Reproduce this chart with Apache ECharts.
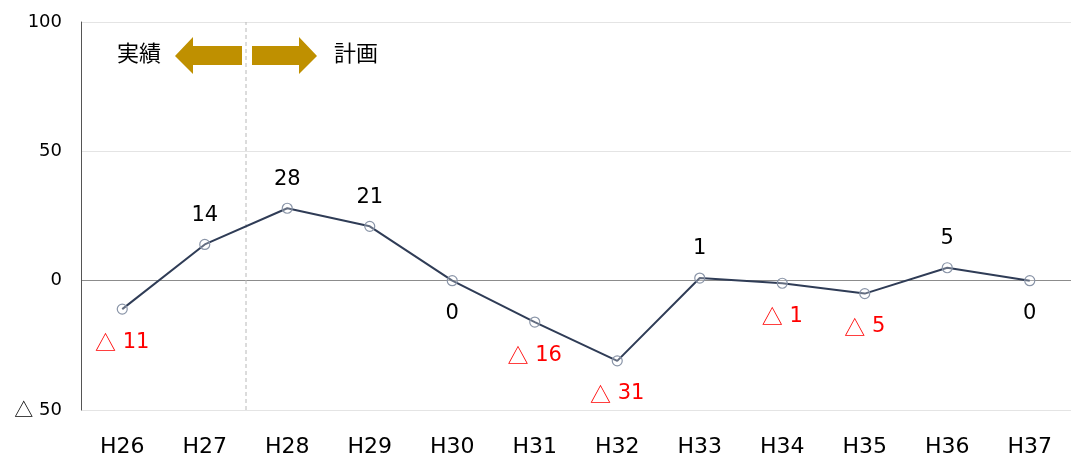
<!DOCTYPE html>
<html>
<head>
<meta charset="utf-8">
<script src="https://cdn.jsdelivr.net/npm/echarts@6/dist/echarts.min.js"></script>
<style>
  html, body { margin: 0; padding: 0; background: #fff; }
  #chart { width: 1071px; height: 458px; }
</style>
</head>
<body>
<div id="chart"></div>
<script>
// Fiscal years (Heisei) and yearly change values
const years = ['H26', 'H27', 'H28', 'H29', 'H30', 'H31', 'H32', 'H33', 'H34', 'H35', 'H36', 'H37'];
const changes = [-11, 14, 28, 21, 0, -16, -31, 1, -1, -5, 5, 0];
const yTicks = [-50, 0, 50, 100];
const lastActualYear = 'H27';   // results up to here, plan afterwards

const FONT = '"DejaVu Sans", "Noto Sans CJK JP", sans-serif';
const JP_FONT = '"Noto Sans CJK JP", sans-serif';
const GOLD = '#BF9000';

// Negative values are written with a leading triangle
const fmt = v => (v < 0 ? '{t|△} ' + (-v) : String(v));

const seriesData = changes.map(v => ({
  value: v,
  label: {
    position: v > 0 ? 'top' : 'bottom',
    distance: v > 0 ? 13 : 17,
    color: v < 0 ? '#ff0000' : '#000000'
  }
}));

// divider sits on the boundary between the last actual year and the first plan year
const dividerX = years.indexOf(lastActualYear) + 0.5;
const dividerData = [[dividerX, yTicks[0]], [dividerX, yTicks[yTicks.length - 1]]];

const chart = echarts.init(document.getElementById('chart'), null, { renderer: 'canvas' });

chart.setOption({
  animation: false,
  backgroundColor: '#ffffff',
  grid: { left: 81, width: 995, top: 22, bottom: 48, containLabel: false },
  xAxis: [
    {
      type: 'category',
      data: years,
      boundaryGap: true,
      axisLine: { show: false },
      axisTick: { show: false },
      splitLine: { show: false },
      axisLabel: { color: '#000', fontSize: 22, fontFamily: FONT, margin: 26 }
    },
    {
      // continuous companion axis used to place the divider between categories
      type: 'value',
      show: false,
      min: -0.5,
      max: years.length - 0.5
    }
  ],
  yAxis: {
    type: 'value',
    min: yTicks[0],
    max: yTicks[yTicks.length - 1],
    interval: 50,
    axisLine: { show: true, onZero: false, lineStyle: { color: '#555', width: 1 } },
    axisTick: { show: false },
    axisLabel: {
      color: '#000', fontSize: 18, fontFamily: FONT, margin: 19,
      formatter: v => fmt(v),
      rich: { t: { fontSize: 19, fontFamily: JP_FONT } }
    },
    splitLine: {
      show: true,
      lineStyle: { color: ['#e4e4e4', '#8c8c8c', '#e4e4e4', '#e4e4e4'], width: 1.2 }
    }
  },
  series: [
    {
      type: 'line',
      xAxisIndex: 1,
      data: dividerData,
      symbol: 'none',
      silent: true,
      lineStyle: { color: '#b8b8b8', type: [4, 3], width: 1 },
      z: 1
    },
    {
      type: 'line',
      xAxisIndex: 0,
      data: seriesData,
      symbol: 'circle',
      symbolSize: 10,
      lineStyle: { color: '#2f3c56', width: 2 },
      itemStyle: { color: 'rgba(255,255,255,0.25)', borderColor: '#8a95a8', borderWidth: 1.2 },
      label: {
        show: true,
        fontSize: 21,
        fontFamily: FONT,
        formatter: p => fmt(p.value),
        rich: { t: { fontSize: 21, fontFamily: JP_FONT } }
      },
      z: 3
    }
  ],
  graphic: [
    {
      type: 'polygon',
      shape: { points: [[175, 56], [193, 37], [193, 46], [242, 46], [242, 65], [193, 65], [193, 74]] },
      style: { fill: GOLD }
    },
    {
      type: 'polygon',
      shape: { points: [[317, 56], [299, 37], [299, 46], [252, 46], [252, 65], [299, 65], [299, 74]] },
      style: { fill: GOLD }
    },
    {
      type: 'text',
      left: 117, top: 42,
      style: { text: '実績', fontSize: 22, fontFamily: JP_FONT, fill: '#000' }
    },
    {
      type: 'text',
      left: 334, top: 42,
      style: { text: '計画', fontSize: 22, fontFamily: JP_FONT, fill: '#000' }
    }
  ]
});
</script>
</body>
</html>
